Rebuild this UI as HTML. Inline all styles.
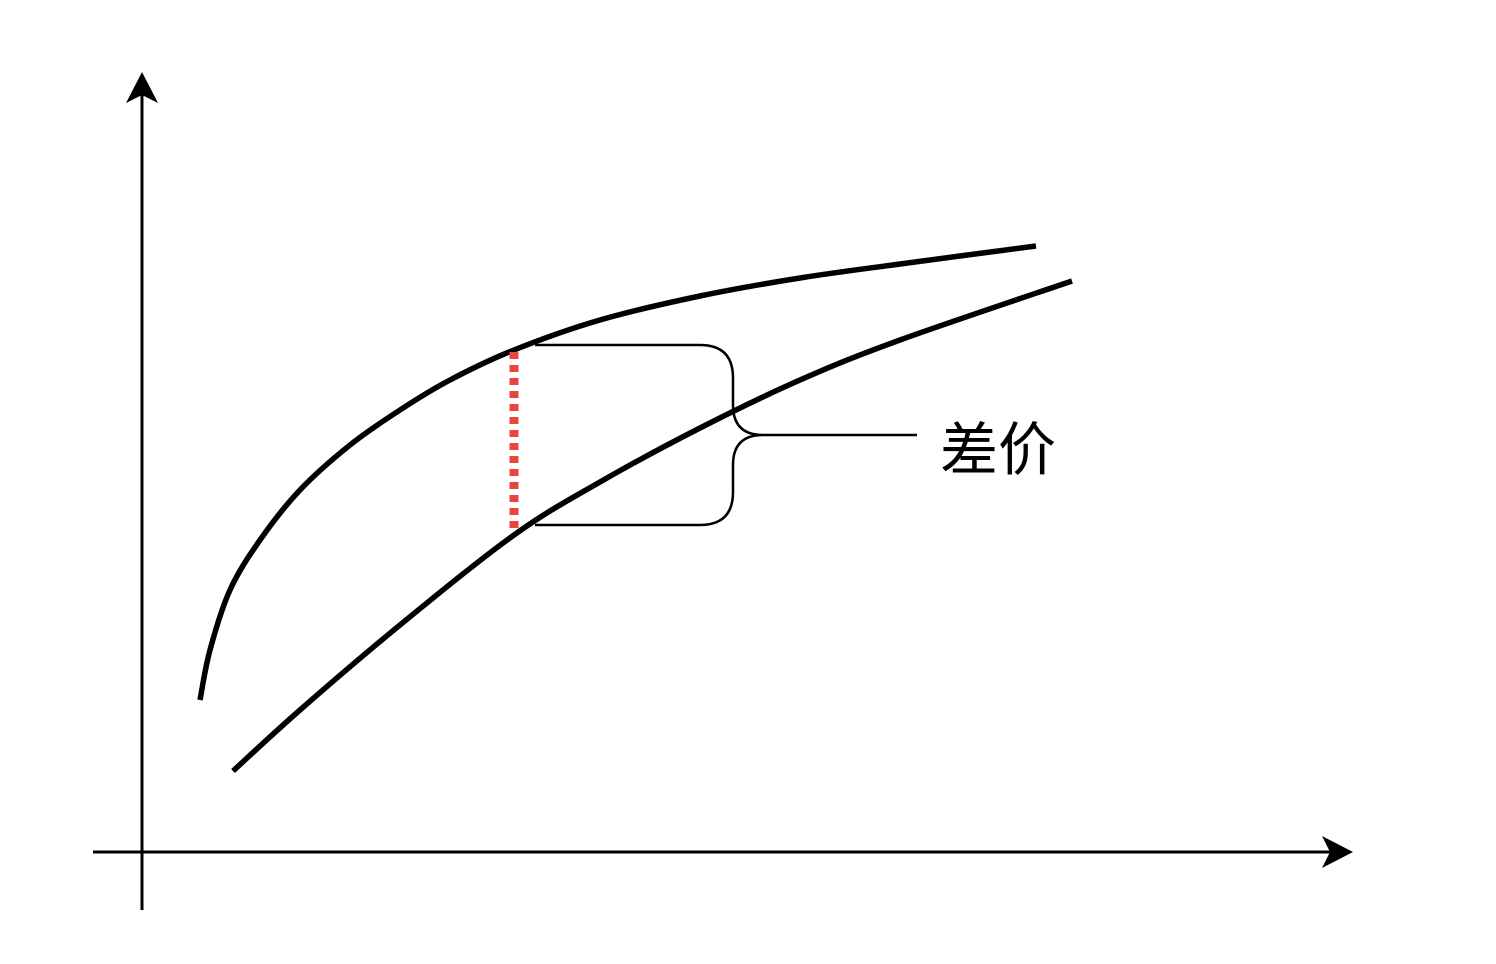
<!DOCTYPE html>
<html><head><meta charset="utf-8"><style>
html,body{margin:0;padding:0;background:#fff;}
svg{display:block;}
</style></head><body>
<svg id="chart" width="1496" height="964" viewBox="0 0 1496 964">
  <g id="axes">
    <line x1="142" y1="910" x2="142" y2="95" stroke="#000" stroke-width="3"/>
    <polygon points="142,72 126,103 142,95 158,103" fill="#000"/>
    <line x1="93" y1="852" x2="1330" y2="852" stroke="#000" stroke-width="3"/>
    <polygon points="1353,852 1322,836 1330,852 1322,868" fill="#000"/>
  </g>
  <g id="series"></g>
  <path d="M535,345 H700 Q733,345 733,378 V405 Q733,435 763,435 H917 M535,525 H700 Q733,525 733,492 V465 Q733,435 763,435" fill="none" stroke="#000" stroke-width="2.5"/>
  <text x="940" y="470" font-size="58" font-family="'Liberation Sans','Noto Sans CJK SC',sans-serif" fill="#000">差价</text>
</svg>
<script>
const upperX = [5.8, 6.8, 8.8, 11.8, 15.8, 20.8, 25.8, 30.8, 37.2, 45.8, 55.8, 65.8, 75.8, 89.4];
const upperY = [15.2, 20.2, 26.2, 31.2, 36.2, 40.7, 44.2, 47.2, 50.2, 53.2, 55.6, 57.4, 58.8, 60.6];
const lowerX = [9.1, 15.8, 25.8, 37.2, 45.8, 55.8, 65.8, 75.8, 93.0];
const lowerY = [8.1, 14.2, 22.7, 31.7, 37.0, 42.4, 47.2, 51.2, 57.1];
const spreadX = 37.2;

function sx(v){ return 142 + v * 10; }
function sy(v){ return 852 - v * 10; }

function smoothPath(xs, ys){
  const p = xs.map((x,i)=>[sx(x), sy(ys[i])]);
  let d = 'M' + p[0][0] + ',' + p[0][1];
  for (let i = 0; i < p.length - 1; i++){
    const p0 = p[Math.max(i-1,0)], p1 = p[i], p2 = p[i+1], p3 = p[Math.min(i+2,p.length-1)];
    const c1x = p1[0] + (p2[0]-p0[0])/6, c1y = p1[1] + (p2[1]-p0[1])/6;
    const c2x = p2[0] - (p3[0]-p1[0])/6, c2y = p2[1] - (p3[1]-p1[1])/6;
    d += ' C' + c1x + ',' + c1y + ' ' + c2x + ',' + c2y + ' ' + p2[0] + ',' + p2[1];
  }
  return d;
}
function interp(xs, ys, x){
  for (let i = 0; i < xs.length - 1; i++){
    if (x >= xs[i] && x <= xs[i+1]) return ys[i] + (ys[i+1]-ys[i])*(x-xs[i])/(xs[i+1]-xs[i]);
  }
  return ys[ys.length-1];
}
const NS = 'http://www.w3.org/2000/svg';
const g = document.getElementById('series');

const up = document.createElementNS(NS, 'path');
up.setAttribute('d', smoothPath(upperX, upperY));
up.setAttribute('fill', 'none'); up.setAttribute('stroke', '#000'); up.setAttribute('stroke-width', '5.5');


g.appendChild(up);

const lo = document.createElementNS(NS, 'path');
lo.setAttribute('d', smoothPath(lowerX, lowerY));
lo.setAttribute('fill', 'none'); lo.setAttribute('stroke', '#000'); lo.setAttribute('stroke-width', '5.5');


g.appendChild(lo);

const sp = document.createElementNS(NS, 'line');
sp.setAttribute('x1', sx(spreadX)); sp.setAttribute('x2', sx(spreadX));
sp.setAttribute('y1', sy(interp(upperX, upperY, spreadX)) + 2);
sp.setAttribute('y2', sy(interp(lowerX, lowerY, spreadX)) - 4);
sp.setAttribute('stroke', '#e8463c'); sp.setAttribute('stroke-width', '9'); sp.setAttribute('stroke-dasharray', '7 6');


g.appendChild(sp);
</script>
</body></html>
